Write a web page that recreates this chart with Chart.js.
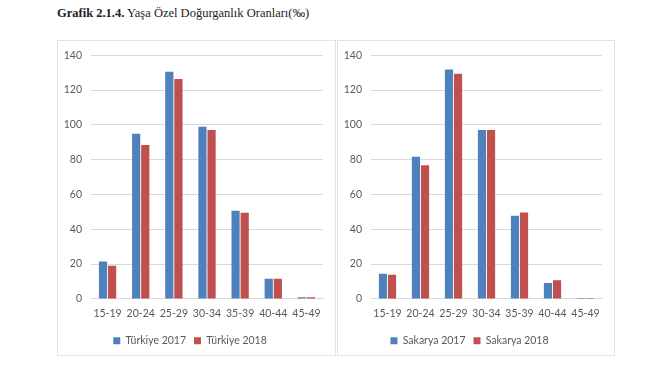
<!DOCTYPE html>
<html>
<head>
<meta charset="utf-8">
<script src="https://cdn.jsdelivr.net/npm/chart.js@4/dist/chart.umd.min.js"></script>
<style>
  body { margin: 0; background: #fff; width: 670px; height: 372px; position: relative; overflow: hidden; }
  #baslik { position: absolute; left: 57px; top: 6px; font-family: "Liberation Serif", serif; font-size: 12.5px; color: #222; white-space: nowrap; }
  .panel { position: absolute; top: 40px; height: 316px; box-sizing: border-box; border: 1px solid #e3e3e3; }
  .panel canvas { position: absolute; left: -1px; top: -1px; }
</style>
</head>
<body>
<div id="baslik"><b>Grafik 2.1.4.</b> Yaşa Özel Doğurganlık Oranları(‰)</div>
<div class="panel" style="left:57px;width:279px;"><canvas id="grafikTurkiye" width="279" height="316"></canvas></div>
<div class="panel" style="left:337px;width:278px;"><canvas id="grafikSakarya" width="278" height="316"></canvas></div>

<script>
// ===============================
// DATA
// ===============================
const yasGruplari = ["15-19", "20-24", "25-29", "30-34", "35-39", "40-44", "45-49"];

const turkiye2017 = [21.5, 94.9, 130.6, 99.0, 50.7, 11.6, 1.0];
const turkiye2018 = [19.1, 88.4, 126.4, 97.0, 49.5, 11.6, 1.0];

const sakarya2017 = [14.5, 81.7, 131.8, 97.1, 47.8, 9.1, 0.5];
const sakarya2018 = [13.9, 76.8, 129.4, 97.1, 49.7, 10.7, 0.5];

const yTikler = [0, 20, 40, 60, 80, 100, 120, 140];

const MAVI = "#4f81bd";
const KIRMIZI = "#c0504d";
const YAZI = "#595959";
const FONT = "Lato";

// ===============================
// GRAFIK
// ===============================
function grafikCiz(id, etiket1, veri1, etiket2, veri2) {
  const canvas = document.getElementById(id);

  return new Chart(canvas, {
    type: "bar",
    data: {
      labels: yasGruplari,
      datasets: [
        { label: etiket1, data: veri1, backgroundColor: MAVI },
        { label: etiket2, data: veri2, backgroundColor: KIRMIZI }
      ]
    },
    options: {
      responsive: false,
      animation: false,
      categoryPercentage: 0.55,
      barPercentage: 0.9,
      layout: { padding: { top: 13, right: 13, bottom: 0, left: 0 } },
      plugins: {
        tooltip: { enabled: false },
        legend: {
          position: "bottom",
          labels: {
            boxWidth: 7,
            boxHeight: 7,
            padding: 8,
            color: YAZI,
            font: { family: FONT, size: 10.5 }
          }
        }
      },
      scales: {
        x: {
          grid: { display: false, drawTicks: false },
          border: { color: "#d9d9d9" },
          ticks: { color: YAZI, padding: 8, font: { family: FONT, size: 10.5 }, maxRotation: 0 }
        },
        y: {
          min: 0,
          max: 140,
          afterFit: s => { s.width = 34; },
          afterBuildTicks: s => { s.ticks = yTikler.map(v => ({ value: v })); },
          grid: { color: "#d9d9d9", drawTicks: false },
          border: { display: false },
          ticks: { color: YAZI, padding: 9, font: { family: FONT, size: 10.5 } }
        }
      }
    }
  });
}

grafikCiz("grafikTurkiye", "Türkiye 2017", turkiye2017, "Türkiye 2018", turkiye2018);
grafikCiz("grafikSakarya", "Sakarya 2017", sakarya2017, "Sakarya 2018", sakarya2018);
</script>
</body>
</html>
